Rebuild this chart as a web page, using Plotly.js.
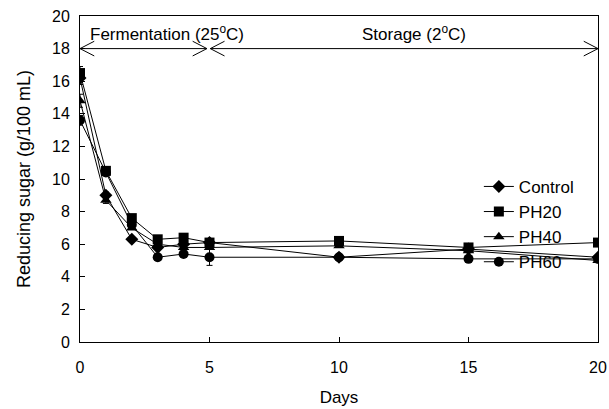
<!DOCTYPE html>
<html>
<head>
<meta charset="utf-8">
<script src="https://cdn.plot.ly/plotly-3.0.1.min.js"></script>
<style>html,body{margin:0;padding:0;background:#fff;}#chart{width:609px;height:409px;}</style>
</head>
<body>
<div id="chart"></div>
<script>
var days = [0, 1, 2, 3, 4, 5, 10, 15, 20];
var seriesNames = ["Control", "PH20", "PH40", "PH60"];
var control = [16.2, 9.0, 6.3, 5.8, 6.0, 6.1, 5.2, 5.7, 5.2];
var ph20 = [16.5, 10.5, 7.6, 6.3, 6.4, 6.1, 6.2, 5.8, 6.1];
var ph40 = [14.8, 8.7, 7.0, 6.0, 5.8, 5.8, 5.9, 5.6, 5.0];
var ph60 = [13.6, 10.4, 7.2, 5.2, 5.4, 5.2, 5.2, 5.1, 5.1];
var controlErr = [0.4, 0.2, 0.1, 0.1, 0.1, 0.2, 0.1, 0.1, 0.1];
var ph20Err = [0.4, 0.2, 0.2, 0.1, 0.2, 0.1, 0.1, 0.1, 0.1];
var ph40Err = [0.4, 0.2, 0.1, 0.1, 0.1, 0.1, 0.1, 0.1, 0.1];
var ph60Err = [0.3, 0.2, 0.1, 0.1, 0.1, 0.5, 0.1, 0.1, 0.1];
var symbols = ["diamond", "square", "triangle-up", "circle"];
var sizes = [10, 10, 10, 10];
var values = [control, ph20, ph40, ph60];
var errs = [controlErr, ph20Err, ph40Err, ph60Err];
var yTicks = [0, 2, 4, 6, 8, 10, 12, 14, 16, 18, 20];
var xTicks = [0, 5, 10, 15, 20];
var phaseSplit = 5;
var arrowY = 18;

var traces = seriesNames.map(function (n, i) {
  return {
    x: days, y: values[i], name: n, type: "scatter", mode: "lines+markers",
    line: {color: "#000", width: 1},
    marker: {symbol: symbols[i], size: sizes[i], color: "#000"},
    error_y: {type: "data", array: errs[i], visible: true, color: "#000", thickness: 1, width: 3}
  };
});

function arrowPath(x0, x1, y) {
  var hx = 0.55, hy = 0.45;
  return "M" + x0 + "," + y + " L" + x1 + "," + y +
    " M" + (x0 + hx) + "," + (y + hy) + " L" + x0 + "," + y + " L" + (x0 + hx) + "," + (y - hy) +
    " M" + (x1 - hx) + "," + (y + hy) + " L" + x1 + "," + y + " L" + (x1 - hx) + "," + (y - hy);
}

var layout = {
  width: 609, height: 409,
  margin: {l: 80, r: 11, t: 16, b: 67},
  paper_bgcolor: "#fff", plot_bgcolor: "#fff",
  font: {family: "Arial, Liberation Sans, sans-serif", size: 16, color: "#000"},
  showlegend: true,
  legend: {x: 0.770, y: 0.531, xanchor: "left", yanchor: "top", bgcolor: "rgba(0,0,0,0)",
    font: {size: 17}, tracegroupgap: 0, itemwidth: 30},
  xaxis: {
    range: [0, 20], tickvals: xTicks, ticks: "inside", ticklen: 5, tickcolor: "#000",
    showline: true, linecolor: "#000", linewidth: 1, mirror: true, showgrid: false, zeroline: false,
    ticklabelstandoff: 11,
    title: {text: "Days", font: {size: 17}, standoff: 15}, tickfont: {size: 16}
  },
  yaxis: {
    range: [0, 20], tickvals: yTicks, ticks: "inside", ticklen: 5, tickcolor: "#000",
    showline: true, linecolor: "#000", linewidth: 1, mirror: true, showgrid: false, zeroline: false,
    ticklabelstandoff: 6,
    title: {text: "Reducing sugar (g/100 mL)", font: {size: 18}, standoff: 16}, tickfont: {size: 16}
  },
  shapes: [
    {type: "path", xref: "x", yref: "y", path: arrowPath(0, phaseSplit - 0.1, arrowY), line: {color: "#000", width: 1}},
    {type: "path", xref: "x", yref: "y", path: arrowPath(phaseSplit + 0.03, 20, arrowY), line: {color: "#000", width: 1}}
  ],
  annotations: [
    {x: 3.34, y: arrowY, xref: "x", yref: "y", yanchor: "bottom", yshift: 3, showarrow: false,
      text: "Fermentation (25<sup>o</sup>C)", font: {size: 17}},
    {x: 12.9, y: arrowY, xref: "x", yref: "y", yanchor: "bottom", yshift: 3, showarrow: false,
      text: "Storage (2<sup>o</sup>C)", font: {size: 17}}
  ]
};

Plotly.newPlot("chart", traces, layout, {displayModeBar: false, staticPlot: true});
</script>
</body>
</html>
